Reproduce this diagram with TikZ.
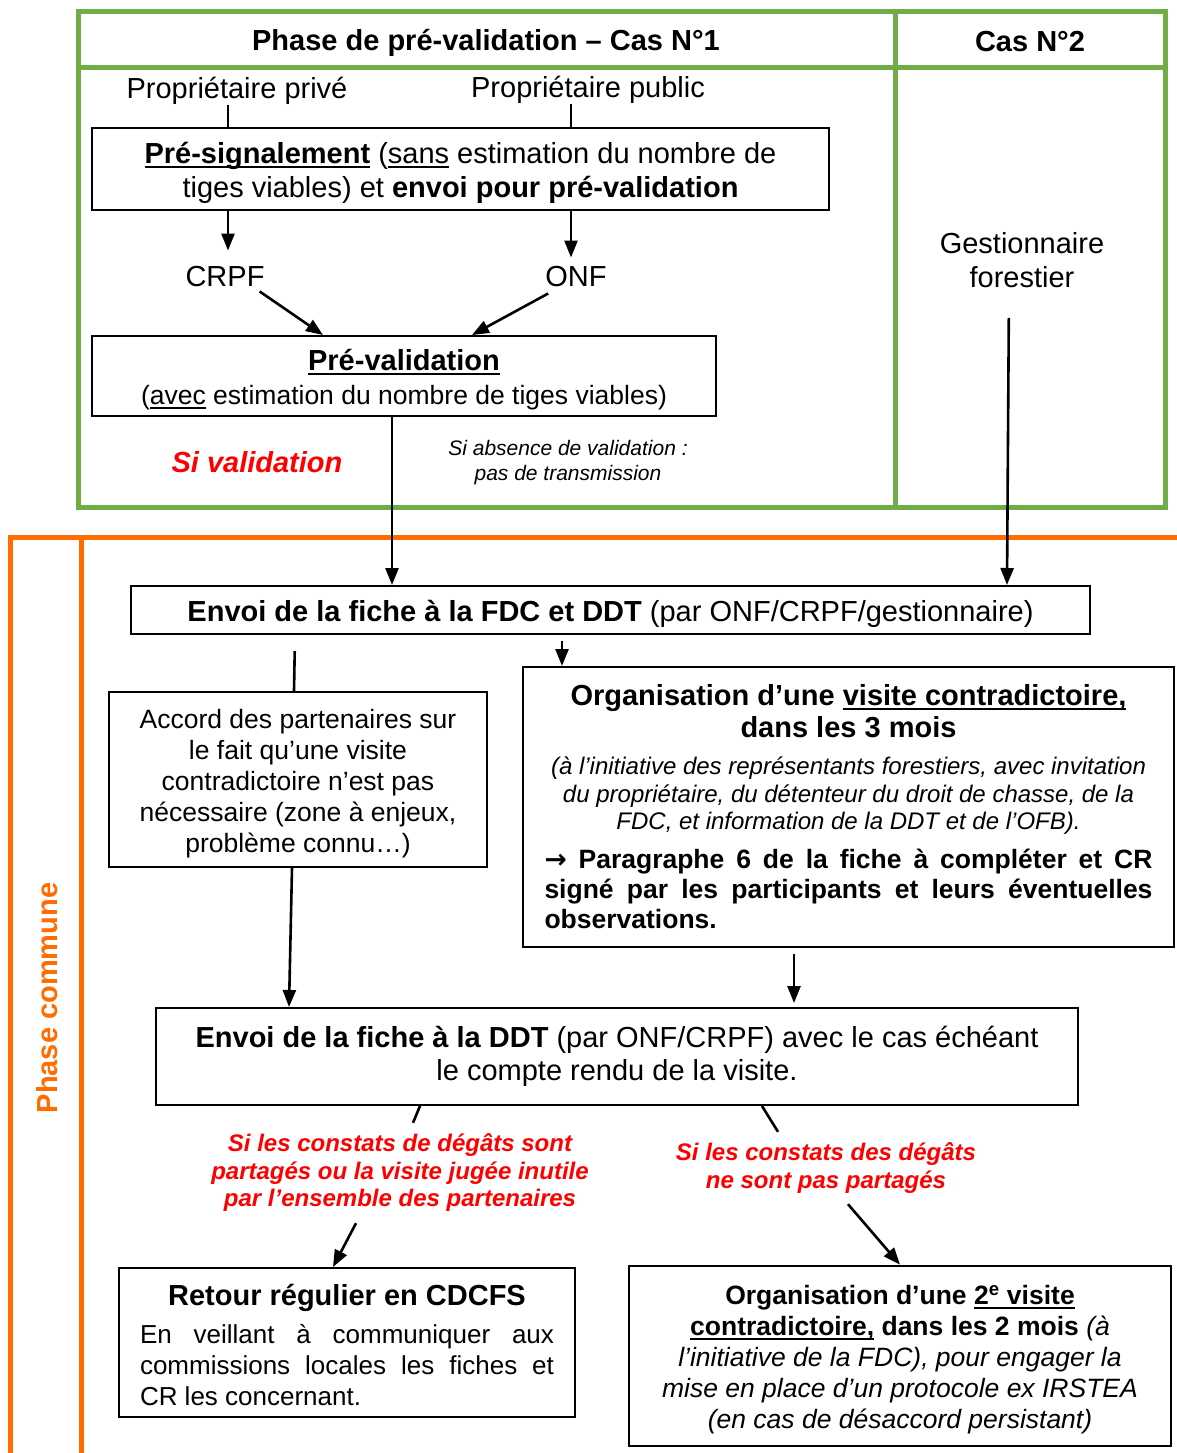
\documentclass[tikz,border=0pt]{standalone}
\usepackage{fontspec}
\setmainfont{Liberation Sans}
\newfontfamily\arrowfont{DejaVu Sans}
\usetikzlibrary{arrows.meta}
\definecolor{vgreen}{RGB}{112,173,71}
\definecolor{vorange}{RGB}{255,108,0}
\definecolor{vred}{RGB}{255,0,0}
\newcommand\ulx[1]{\begingroup\setbox0=\hbox{#1}\rlap{\rule[-4.5pt]{\wd0}{2.2pt}}\box0\endgroup}
\newcommand\setsz[2]{\fontsize{#1}{#2}\selectfont\spaceskip=0pt\xspaceskip=0pt\relax}
\begin{document}
\begin{tikzpicture}[x=1pt,y=-1pt,
  box/.style={draw, line width=2pt, align=flush center, inner sep=0pt},
  sbox/.style={box, execute at begin node={\rule{0pt}{1em}}},
  txt/.style={inner sep=0pt, align=flush center},
  arr/.style={line width=2.6pt, -{Triangle[length=17pt,width=13pt]}},
  ln/.style={line width=2.6pt},
  fA/.style={font=\setsz{29}{34}},
  fB/.style={font=\setsz{26.5}{31}},
  fS/.style={font=\setsz{21}{25}\itshape},
  fR/.style={font=\setsz{24}{27.5}\bfseries\itshape, text=vred},
  gline/.style={draw=vgreen, line width=5pt},
  oline/.style={draw=vorange, line width=5pt}]
\fill[white] (0,0) rectangle (1176,1453);
\useasboundingbox (0,0) rectangle (1176,1453);

% frames
\draw[gline] (78,12) rectangle (1165,507);
\draw[gline] (78,68) -- (1165,68);
\draw[gline] (895,12) -- (895,507);
\draw[oline] (1185,537) -- (10,537) -- (10,1465);
\draw[oline] (81,537) -- (81,1465);

% headers
\node[txt,fA] (h1) at (486,43) {\bfseries Phase de pré-validation – Cas N°1};
\node[txt,fA] (h2) at (1030,42) {\bfseries Cas N°2};
\node[txt, font=\setsz{29}{34}\bfseries, text=vorange, rotate=90] (pc) at (47,998) {Phase commune};

% top part
\node[txt,fA] (prive) at (237,91) {Propriétaire privé};
\node[txt,fA] (public) at (588,90) {Propriétaire public};
\node[sbox,fA,minimum width=737pt,minimum height=82pt,text width=720pt] (presig) at (460.5,169)
  {\ulx{\bfseries Pré-signalement} (\ulx{sans} estimation du nombre de\\tiges viables) et \textbf{envoi pour pré-validation}};
\node[txt,fA] (crpf) at (225,277) {CRPF};
\node[txt,fA] (onf) at (576,277) {ONF};
\node[sbox,fA,minimum width=624pt,minimum height=80pt,text width=610pt] (prevalid) at (404,376)
  {\ulx{\bfseries Pré-validation}\\{\setsz{26.5}{32}(\ulx{avec} estimation du nombre de tiges viables)}};
\node[txt,font=\setsz{29}{34}\bfseries\itshape,text=vred] (sival) at (257,462) {Si validation};
\node[txt,fS] (siabs) at (568,463) {Si absence de validation :\\pas de transmission};
\node[txt,fA] (gest) at (1022,260) {Gestionnaire\\forestier};

\draw[ln] (prive.south -| 228,0) -- (presig.north -| 228,0);
\draw[ln] (public.south -| 571,0) -- (presig.north -| 571,0);
\draw[arr, shorten >=16pt] (presig.south -| 228,0) -- (crpf.north -| 228,0);
\draw[arr, shorten >=9pt] (presig.south -| 571,0) -- (onf.north -| 571,0);
\draw[arr] ([shift={(-5pt,-4pt)}]crpf.south east) -- (prevalid.north -| 323,0);
\draw[arr] ([shift={(3pt,-6pt)}]onf.south west) -- (prevalid.north -| 472,0);

% common phase
\node[sbox,fA,minimum width=959pt,minimum height=48pt,text width=940pt] (env1) at (610.5,610)
  {\textbf{Envoi de la fiche à la FDC et DDT} (par ONF/CRPF/gestionnaire)};
\draw[arr] (prevalid.south -| 392,0) -- (env1.north -| 392,0);
\draw[arr, shorten <=30pt] (gest.south -| 1009,0) -- (env1.north -| 1007,0);

\node[sbox,fB,minimum width=378pt,minimum height=175pt,text width=360pt] (accord) at (298,779.5)
  {Accord des partenaires sur\\le fait qu’une visite\\contradictoire n’est pas\\nécessaire (zone à enjeux,\\problème connu…)};
\node[box,fA,minimum width=651pt,minimum height=280pt,text width=620pt] (org1) at (848.5,807)
  {{\bfseries\setsz{29}{32}Organisation d’une \ulx{visite contradictoire,}\\dans les 3 mois\par}
   \vspace{9.5pt}
   {\itshape\setsz{24}{27.5}(à l’initiative des représentants forestiers, avec invitation\\du propriétaire, du détenteur du droit de chasse, de la\\FDC, et information de la DDT et de l’OFB).\par}
   \vspace{9pt}
   {\bfseries\setsz{26.5}{30}\makebox[608pt][s]{{\arrowfont →} Paragraphe 6 de la fiche à compléter et CR}\\\makebox[608pt][s]{signé par les participants et leurs éventuelles}\\\makebox[608pt][l]{observations.}\par}};
\draw[ln, shorten <=16pt] (env1.south -| 295,0) -- (accord.north -| 294,0);
\draw[arr, shorten <=6pt] (env1.south -| 562,0) -- (org1.north -| 562,0);

\node[box,font=\setsz{29}{33},minimum width=922pt,minimum height=97pt,text width=900pt] (env2) at (617,1056.5)
  {\textbf{Envoi de la fiche à la DDT} (par ONF/CRPF) avec le cas échéant\\le compte rendu de la visite.};
\draw[arr] (accord.south -| 292,0) -- (env2.north -| 289,0);
\draw[arr, shorten <=6pt, shorten >=4pt] (org1.south -| 794,0) -- (env2.north -| 794,0);

\node[txt,fR,minimum height=100pt] (lab1) at (400,1173)
  {Si les constats de dégâts sont\\partagés ou la visite jugée inutile\\par l’ensemble des partenaires};
\node[txt,fR,minimum height=72pt] (lab2) at (826,1168)
  {Si les constats des dégâts\\ne sont pas partagés};

\node[sbox,fB,minimum width=456pt,minimum height=149pt,text width=436pt] (retour) at (347,1342.5)
  {{\bfseries\setsz{29}{33}Retour régulier en CDCFS\par}
   \vspace{7pt}
   {\setsz{26}{31}\makebox[414pt][s]{En veillant à communiquer aux}\\\makebox[414pt][s]{commissions locales les fiches et}\\\makebox[414pt][l]{CR les concernant.}\par}};
\node[sbox,fB,line width=2.6pt,minimum width=542pt,minimum height=180pt,text width=525pt] (org2) at (900,1356)
  {\textbf{Organisation d’une \ulx{2\textsuperscript{e} visite}}\\
   \textbf{\ulx{contradictoire,} dans les 2 mois} \textit{(à}\\
   \textit{l’initiative de la FDC), pour engager la}\\
   \textit{mise en place d’un protocole ex IRSTEA}\\
   \textit{(en cas de désaccord persistant)}};

\draw[ln] (env2.south -| 420,0) -- (lab1.north -| 413,0);
\draw[arr] (lab1.south -| 356,0) -- (retour.north -| 333,0);
\draw[ln] (env2.south -| 762,0) -- (lab2.north -| 778,0);
\draw[arr] (lab2.south -| 848,0) -- (org2.north -| 900,0);
\end{tikzpicture}
\end{document}
